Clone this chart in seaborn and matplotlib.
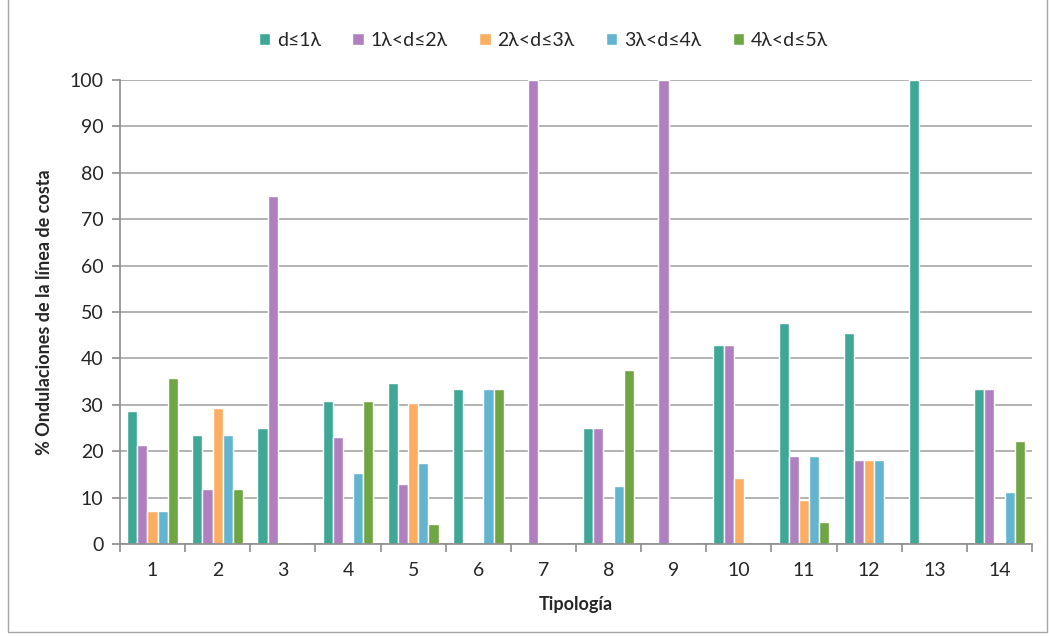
import pandas as pd
import seaborn as sns
import matplotlib.pyplot as plt
from matplotlib.patches import Rectangle

tipologias = [str(i) for i in range(1, 15)]
series = ['d≤1λ', '1λ<d≤2λ', '2λ<d≤3λ', '3λ<d≤4λ', '4λ<d≤5λ']
d1 = [28.6, 23.5, 25.0, 30.8, 34.8, 33.3, 0, 25.0, 0, 42.9, 47.6, 45.5, 100, 33.3]
d2 = [21.4, 11.8, 75.0, 23.1, 13.0, 0, 100, 25.0, 100, 42.9, 19.0, 18.2, 0, 33.3]
d3 = [7.1, 29.4, 0, 0, 30.4, 0, 0, 0, 0, 14.3, 9.5, 18.2, 0, 0]
d4 = [7.1, 23.5, 0, 15.4, 17.4, 33.3, 0, 12.5, 0, 0, 19.0, 18.2, 0, 11.1]
d5 = [35.7, 11.8, 0, 30.8, 4.3, 33.3, 0, 37.5, 0, 0, 4.8, 0, 0, 22.2]
colors = ['#3FA796', '#B07FC0', '#FBAD62', '#62B4CF', '#6FA543']

rows = []
for name, vals in zip(series, [d1, d2, d3, d4, d5]):
    for t, v in zip(tipologias, vals):
        rows.append({'Tipología': t, 'serie': name, 'valor': v})
df = pd.DataFrame(rows)

sns.set_style('white')
plt.rcParams['font.family'] = ['Lato', 'DejaVu Sans']

fig = plt.figure(figsize=(10.49, 6.37), dpi=100)
ax = fig.add_axes([0.1144, 0.146, 0.8694, 0.7284])
sns.barplot(data=df, x='Tipología', y='valor', hue='serie', hue_order=series,
            order=tipologias, palette=colors, width=0.78, ax=ax, saturation=1)

ax.set_ylim(0, 100)
ax.set_xlim(-0.5, 13.5)
ax.set_yticks(range(0, 101, 10))
ax.yaxis.grid(True, color='#A6A6A6', linewidth=1.2)
ax.set_axisbelow(True)
for s in ['top', 'right']:
    ax.spines[s].set_visible(False)
for s in ['left', 'bottom']:
    ax.spines[s].set_color('#8C8C8C')
    ax.spines[s].set_linewidth(1.2)

ax.set_xticks([i + 0.5 for i in range(-1, 14)], minor=True)
ax.tick_params(axis='x', which='major', length=0, labelsize=14, pad=13)
ax.tick_params(axis='x', which='minor', length=6, color='#8C8C8C', width=1.2, direction='out', bottom=True)
ax.tick_params(axis='y', length=6, color='#8C8C8C', width=1.2, direction='out', left=True, labelsize=14, pad=6)

ax.set_xlabel('Tipología', fontsize=13, fontweight='bold', labelpad=12)
ax.set_ylabel('% Ondulaciones de la línea de costa', fontsize=13, fontweight='bold', labelpad=12)

ax.legend(loc='center', bbox_to_anchor=(0.518, 0.937), bbox_transform=fig.transFigure,
          ncol=5, frameon=False, fontsize=14, handlelength=0.6, handleheight=0.6,
          columnspacing=1.6, handletextpad=0.35)

fig.patches.append(Rectangle((0.008, 0.008), 0.99, 1.2, transform=fig.transFigure,
                             fill=False, edgecolor='#A6A6A6', linewidth=1))

fig.savefig('out.png', dpi=100)
